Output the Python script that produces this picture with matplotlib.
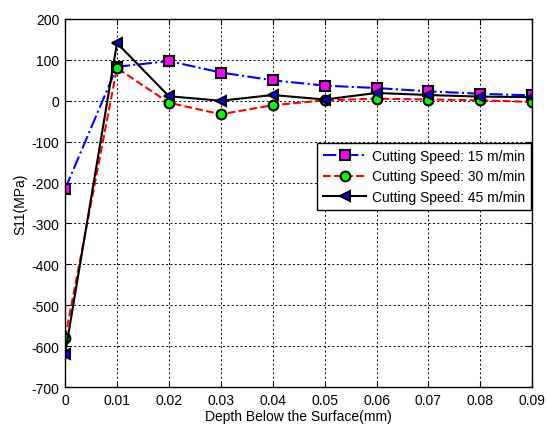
import matplotlib
matplotlib.use("Agg")
import matplotlib.pyplot as plt

depth = [0, 0.01, 0.02, 0.03, 0.04, 0.05, 0.06, 0.07, 0.08, 0.09]
s15 = [-216, 83, 97, 69, 50, 37, 31, 23, 17, 13]
s30 = [-580, 80, -5, -33, -11, 1, 5, 3, 1, -3]
s45 = [-619, 141, 11, 0, 14, 3, 19, 14, 10, 9]
labels = ["Cutting Speed: 15 m/min", "Cutting Speed: 30 m/min", "Cutting Speed: 45 m/min"]

plt.rcParams['font.family'] = ['Liberation Sans', 'DejaVu Sans']
plt.rcParams['axes.unicode_minus'] = False
fig = plt.figure(figsize=(5.47, 4.27), dpi=100)
ax = fig.add_axes([0.119, 0.0913, 0.854, 0.862])

ax.plot(depth, s15, color='blue', linestyle='-.', linewidth=1.5, marker='s', markersize=7,
        markerfacecolor='magenta', markeredgecolor='black', markeredgewidth=1.5, label=labels[0])
ax.plot(depth, s30, color='red', linestyle='--', linewidth=1.5, marker='o', markersize=7,
        markerfacecolor='#00ff00', markeredgecolor='black', markeredgewidth=1.5, label=labels[1])
ax.plot(depth, s45, color='black', linestyle='-', linewidth=1.5, marker='<', markersize=7.5,
        markerfacecolor='blue', markeredgecolor='black', markeredgewidth=1.5, label=labels[2])

ax.set_xlim(0, 0.09)
ax.set_ylim(-700, 200)
ax.set_xticks(depth)
ax.set_xticklabels(['0', '0.01', '0.02', '0.03', '0.04', '0.05', '0.06', '0.07', '0.08', '0.09'])
ax.set_yticks(range(-700, 201, 100))
ax.grid(True, color='black', linestyle=(0, (2, 2.5)), linewidth=0.7)
ax.tick_params(direction='in', top=True, right=True, labelsize=10, length=4, pad=4)
for sp in ax.spines.values():
    sp.set_linewidth(1.0)
ax.set_xlabel('Depth Below the Surface(mm)', fontsize=10, labelpad=2)
ax.set_ylabel('S11(MPa)', fontsize=10, labelpad=3)

leg = ax.legend(loc='upper right', bbox_to_anchor=(0.998, 0.663), fontsize=10, fancybox=False,
                edgecolor='black', framealpha=1, borderaxespad=0, handlelength=3.1,
                handletextpad=0.4, labelspacing=0.45, borderpad=0.45)
leg.get_frame().set_linewidth(1.0)

fig.savefig('out.png', dpi=100)
